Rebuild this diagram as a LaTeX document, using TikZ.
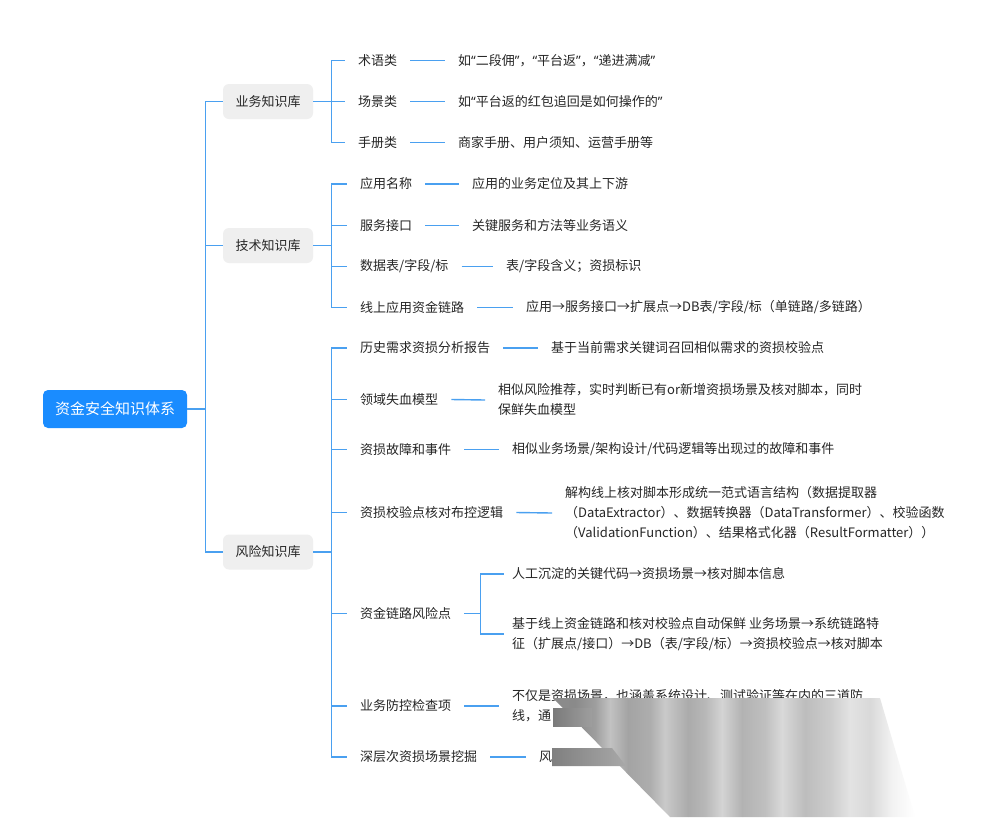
\documentclass[tikz,border=0pt]{standalone}
\usepackage{fontspec}
\setmainfont{Noto Sans CJK SC}
\newfontfamily\latinf{Noto Sans}
\newcommand\qOpen{{\latinf “}}
\newcommand\qClose{{\latinf ”}}
\definecolor{lineblue}{HTML}{4AA0F0}
\definecolor{rootblue}{HTML}{1A8CFF}
\definecolor{boxgray}{HTML}{EFEFEF}
\definecolor{txt}{HTML}{262626}
\begin{document}
\begin{tikzpicture}[x=1pt,y=-1pt,
  conn/.style={draw=lineblue,line width=1.4pt},
  rootbox/.style={fill=rootblue,text=white,rounded corners=5pt,minimum width=144pt,minimum height=38pt,inner sep=0pt,font=\fontsize{15}{18}\selectfont},
  lonebox/.style={fill=boxgray,text=txt,rounded corners=6pt,minimum width=90pt,minimum height=35pt,inner sep=0pt,font=\fontsize{13}{16}\selectfont},
  leaf/.style={anchor=west,inner xsep=13pt,inner ysep=2pt,text=txt,font=\fontsize{13}{20}\selectfont,align=left},
  subleaf/.style={leaf,inner xsep=8pt},
]
\useasboundingbox (0,0) rectangle (1000,817);
\fill[white] (0,0) rectangle (1000,817);

% root and first level
\node[rootbox] (r) at (115,409) {资金安全知识体系};
\node[lonebox] (b1) at (268,101.5) {业务知识库};
\node[lonebox] (b2) at (268,245.5) {技术知识库};
\node[lonebox] (b3) at (268,552) {风险知识库};
\foreach \b in {b1,b2,b3} \draw[conn] (r.east) -- ++(18,0) |- (\b.west);

% business
\node[leaf] (a1) at (345,60.5) {术语类};
\node[leaf] (a2) at (345,101.5) {场景类};
\node[leaf] (a3) at (345,142.5) {手册类};
\node[leaf] (da1) at (445,60.5) {如\qOpen 二段佣\qClose ，\qOpen 平台返\qClose ，\qOpen 递进满减\qClose};
\node[leaf] (da2) at (445,101.5) {如\qOpen 平台返的红包追回是如何操作的\qClose};
\node[leaf] (da3) at (445,142.5) {商家手册、用户须知、运营手册等};
\foreach \c in {a1,a2,a3} \draw[conn] (b1.east) -- ++(18,0) |- (\c.west);
\foreach \i in {1,2,3} \draw[conn] (a\i.east) -- (da\i.west);

% technical
\node[leaf] (t1) at (347,184) {应用名称};
\node[leaf] (t2) at (347,225.5) {服务接口};
\node[leaf] (t3) at (347,266.5) {数据表/字段/标};
\node[leaf] (t4) at (347,307.5) {线上应用资金链路};
\node[leaf] (dt1) at (459,184) {应用的业务定位及其上下游};
\node[leaf] (dt2) at (459,225.5) {关键服务和方法等业务语义};
\node[leaf] (dt3) at (493,266.5) {表/字段含义；资损标识};
\node[leaf] (dt4) at (513,307.5) {应用→服务接口→扩展点→DB表/字段/标（单链路/多链路）};
\foreach \c in {t1,t2,t3,t4} \draw[conn] (b2.east) -- ++(18,0) |- (\c.west);
\foreach \i in {1,2,3,4} \draw[conn] (t\i.east) -- (dt\i.west);

% risk
\node[leaf] (k1) at (347,348) {历史需求资损分析报告};
\node[leaf] (k2) at (347,399.5) {领域失血模型};
\node[leaf] (k3) at (347,449.5) {资损故障和事件};
\node[leaf] (k4) at (347,512.5) {资损校验点核对布控逻辑};
\node[leaf] (k5) at (347,613.5) {资金链路风险点};
\node[leaf] (k6) at (347,706) {业务防控检查项};
\node[leaf] (k7) at (347,757) {深层次资损场景挖掘};
\foreach \c in {k1,k2,k3,k4,k5,k6,k7} \draw[conn] (b3.east) -- ++(18,0) |- (\c.west);

\node[leaf] (dk1) at (538,348) {基于当前需求关键词召回相似需求的资损校验点};
\node[leaf] (dk2) at (485,400) {相似风险推荐，实时判断已有or新增资损场景及核对脚本，同时\\保鲜失血模型};
\node[leaf] (dk3) at (499,449.5) {相似业务场景/架构设计/代码逻辑等出现过的故障和事件};
\node[leaf] (dk4) at (552,513) {解构线上核对脚本形成统一范式语言结构（数据提取器\\（DataExtractor）、数据转换器（DataTransformer）、校验函数\\（ValidationFunction）、结果格式化器（ResultFormatter））};
\node[leaf] (dk6) at (499,706) {不仅是资损场景，也涵盖系统设计、测试验证等在内的三道防\\线，通};
\node[leaf] (dk7) at (526,757) {风};
\foreach \i in {1,2,3,4,6,7} \draw[conn] (k\i.east) -- (dk\i.west);

\node[subleaf] (s1) at (504,574) {人工沉淀的关键代码→资损场景→核对脚本信息};
\node[subleaf] (s2) at (504,634) {基于线上资金链路和核对校验点自动保鲜 业务场景→系统链路特\\征（扩展点/接口）→DB（表/字段/标）→资损校验点→核对脚本};
\foreach \c in {s1,s2} \draw[conn] (k5.east) -- ++(16,0) |- (\c.west);

% grey smear covering the lower right corner (striped, fading to the right)
\begin{scope}
  \clip (553,698) -- (880,698) -- (915,817) -- (670,817) -- cycle;
  \foreach \xa/\ca/\xb/\cb in {553/45/575/46, 575/46/595/38, 595/38/610/24, 610/24/628/36, 628/36/650/32, 650/32/665/21, 665/21/688/33, 688/33/705/28, 705/28/722/17, 722/17/742/30, 742/30/765/25, 765/25/782/15, 782/15/805/26, 805/26/830/20, 830/20/850/11, 850/11/870/15, 870/15/892/5, 892/5/915/0}
    \shade[left color=black!\ca, right color=black!\cb] (\xa,690) rectangle (\xb,820);
\end{scope}
\shade[left color=black!52,right color=black!38] (553,708) rectangle (592,726);
\shade[left color=black!50,right color=black!34] (552,748) -- (612,748) -- (626,766) -- (552,766) -- cycle;
\end{tikzpicture}
\end{document}
